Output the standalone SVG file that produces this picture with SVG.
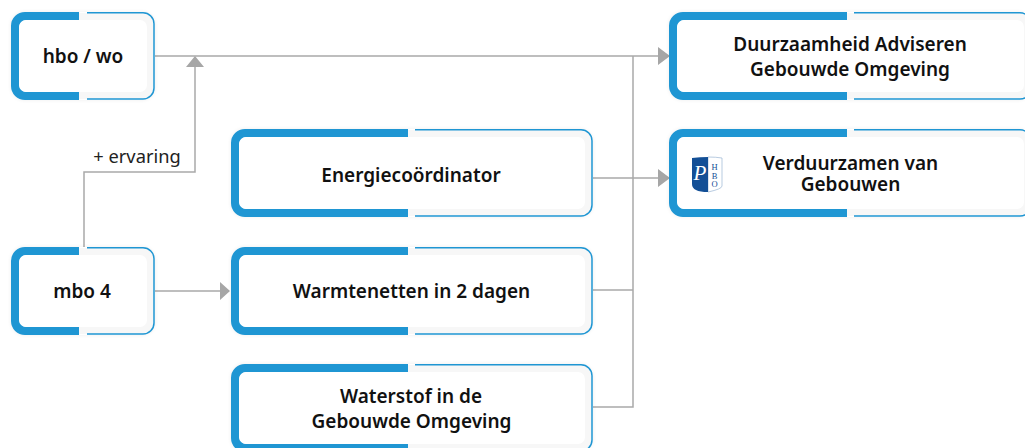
<svg xmlns="http://www.w3.org/2000/svg" width="1025" height="448" viewBox="0 0 1025 448">
<defs>
<filter id="sh" x="-10%" y="-15%" width="120%" height="130%"><feGaussianBlur stdDeviation="2"/></filter>
</defs>
<style>
.t{font-family:"Noto Sans","Open Sans",sans-serif;font-weight:600;font-size:19px;fill:#111;text-anchor:middle}
.l{font-family:"Noto Sans","Open Sans",sans-serif;font-size:18.300px;fill:#222;text-anchor:middle}
.thick{fill:#1f96d3}
.thin{fill:none;stroke:#1f96d3;stroke-width:1.5}
.in{fill:#f7f7f7}
.wh{fill:#fff}
.c{fill:none;stroke:#a9a9a9;stroke-width:1.5}
.a{fill:#a6a6a6}
.s{fill:#000;opacity:.07;filter:url(#sh)}
.lg{font-family:"Liberation Serif",serif;font-size:8.500px;fill:#134f96;text-anchor:middle}
</style>
<rect width="1025" height="448" fill="#fff"/>
<g id="connectors">
<path class="c" d="M155 56H660M633 56V407H593M593 290H633M593 178H660M84 248V172H195V66M155 291H221"/>
<path class="a" d="M658 47L670 56L658 65ZM658 169L670 178L658 187ZM186 67L195 56L204 67ZM220 282L230 291L220 300Z"/>
<text class="l" x="137" y="163">+ ervaring</text>
</g>
<g id="n1">
<rect class="s" x="11" y="12" width="144" height="88" rx="14"/>
<rect class="wh" x="11" y="12" width="144" height="88" rx="14"/>
<path class="in" d="M79 13H147a7 7 0 0 1 7 7V92a7 7 0 0 1-7 7H79Z"/>
<path class="thin" d="M87 12.800H143a11 11 0 0 1 11 11V88a11 11 0 0 1-11 11H87"/>
<path class="thick" d="M79 12H25a14 14 0 0 0-14 14V86a14 14 0 0 0 14 14H79V92H27a8 8 0 0 1-8-8V28a8 8 0 0 1 8-8H79Z"/>
<rect class="wh" x="19" y="20" width="128" height="72" rx="7"/>
<text class="t" x="83" y="63">hbo / wo</text>
</g>
<g id="n2">
<rect class="s" x="11" y="247" width="144" height="88" rx="14"/>
<rect class="wh" x="11" y="247" width="144" height="88" rx="14"/>
<path class="in" d="M79 248H147a7 7 0 0 1 7 7V327a7 7 0 0 1-7 7H79Z"/>
<path class="thin" d="M87 247.800H143a11 11 0 0 1 11 11V323a11 11 0 0 1-11 11H87"/>
<path class="thick" d="M79 247H25a14 14 0 0 0-14 14V321a14 14 0 0 0 14 14H79V327H27a8 8 0 0 1-8-8V263a8 8 0 0 1 8-8H79Z"/>
<rect class="wh" x="19" y="255" width="128" height="72" rx="7"/>
<text class="t" x="82" y="298">mbo 4</text>
</g>
<g id="n3">
<rect class="s" x="231" y="129" width="362" height="88" rx="14"/>
<rect class="wh" x="231" y="129" width="362" height="88" rx="14"/>
<path class="in" d="M408 130H585a7 7 0 0 1 7 7V209a7 7 0 0 1-7 7H408Z"/>
<path class="thin" d="M415 129.800H581a11 11 0 0 1 11 11V205a11 11 0 0 1-11 11H415"/>
<path class="thick" d="M408 129H245a14 14 0 0 0-14 14V203a14 14 0 0 0 14 14H408V209H247a8 8 0 0 1-8-8V145a8 8 0 0 1 8-8H408Z"/>
<rect class="wh" x="239" y="137" width="346" height="72" rx="7"/>
<text class="t" x="411" y="182">Energiecoördinator</text>
</g>
<g id="n4">
<rect class="s" x="231" y="247" width="362" height="88" rx="14"/>
<rect class="wh" x="231" y="247" width="362" height="88" rx="14"/>
<path class="in" d="M408 248H585a7 7 0 0 1 7 7V327a7 7 0 0 1-7 7H408Z"/>
<path class="thin" d="M415 247.800H581a11 11 0 0 1 11 11V323a11 11 0 0 1-11 11H415"/>
<path class="thick" d="M408 247H245a14 14 0 0 0-14 14V321a14 14 0 0 0 14 14H408V327H247a8 8 0 0 1-8-8V263a8 8 0 0 1 8-8H408Z"/>
<rect class="wh" x="239" y="255" width="346" height="72" rx="7"/>
<text class="t" x="411.500" y="298">Warmtenetten in 2 dagen</text>
</g>
<g id="n5">
<rect class="s" x="231" y="364" width="362" height="88" rx="14"/>
<rect class="wh" x="231" y="364" width="362" height="88" rx="14"/>
<path class="in" d="M408 365H585a7 7 0 0 1 7 7V444a7 7 0 0 1-7 7H408Z"/>
<path class="thin" d="M415 364.800H581a11 11 0 0 1 11 11V440a11 11 0 0 1-11 11H415"/>
<path class="thick" d="M408 364H245a14 14 0 0 0-14 14V438a14 14 0 0 0 14 14H408V444H247a8 8 0 0 1-8-8V380a8 8 0 0 1 8-8H408Z"/>
<rect class="wh" x="239" y="372" width="346" height="72" rx="7"/>
<text class="t" x="411" y="403">Waterstof in de</text>
<text class="t" x="411.500" y="428">Gebouwde Omgeving</text>
</g>
<g id="n6">
<rect class="s" x="669" y="12" width="362" height="88" rx="14"/>
<rect class="wh" x="669" y="12" width="362" height="88" rx="14"/>
<path class="in" d="M847 13H1024a7 7 0 0 1 7 7V92a7 7 0 0 1-7 7H847Z"/>
<path class="thin" d="M854 12.800H1020a11 11 0 0 1 11 11V88a11 11 0 0 1-11 11H854"/>
<path class="thick" d="M847 12H683a14 14 0 0 0-14 14V86a14 14 0 0 0 14 14H847V92H685a8 8 0 0 1-8-8V28a8 8 0 0 1 8-8H847Z"/>
<rect class="wh" x="677" y="20" width="347" height="72" rx="7"/>
<text class="t" x="850" y="51">Duurzaamheid Adviseren</text>
<text class="t" x="850" y="76">Gebouwde Omgeving</text>
</g>
<g id="n7">
<rect class="s" x="669" y="129" width="362" height="88" rx="14"/>
<rect class="wh" x="669" y="129" width="362" height="88" rx="14"/>
<path class="in" d="M847 130H1024a7 7 0 0 1 7 7V209a7 7 0 0 1-7 7H847Z"/>
<path class="thin" d="M854 129.800H1020a11 11 0 0 1 11 11V205a11 11 0 0 1-11 11H854"/>
<path class="thick" d="M847 129H683a14 14 0 0 0-14 14V203a14 14 0 0 0 14 14H847V209H685a8 8 0 0 1-8-8V145a8 8 0 0 1 8-8H847Z"/>
<rect class="wh" x="677" y="137" width="347" height="72" rx="7"/>
<path d="M708 157Q716 157 722 158V186Q722 189 708 192Z" fill="#fff" stroke="#9ab4d2" stroke-width=".7"/>
<path d="M692 158Q700 157 708 157V192Q692 192 692 184Z" fill="#134f96"/>
<text x="700" y="180" font-family="Liberation Serif,serif" font-style="italic" font-size="21" fill="#fff" text-anchor="middle">P</text>
<text class="lg" x="714.500" y="170">H</text>
<text class="lg" x="714.500" y="178.500">B</text>
<text class="lg" x="714.500" y="187">O</text>
<text class="t" x="850.500" y="169.500">Verduurzamen van</text>
<text class="t" x="850.500" y="191">Gebouwen</text>
</g>
</svg>
